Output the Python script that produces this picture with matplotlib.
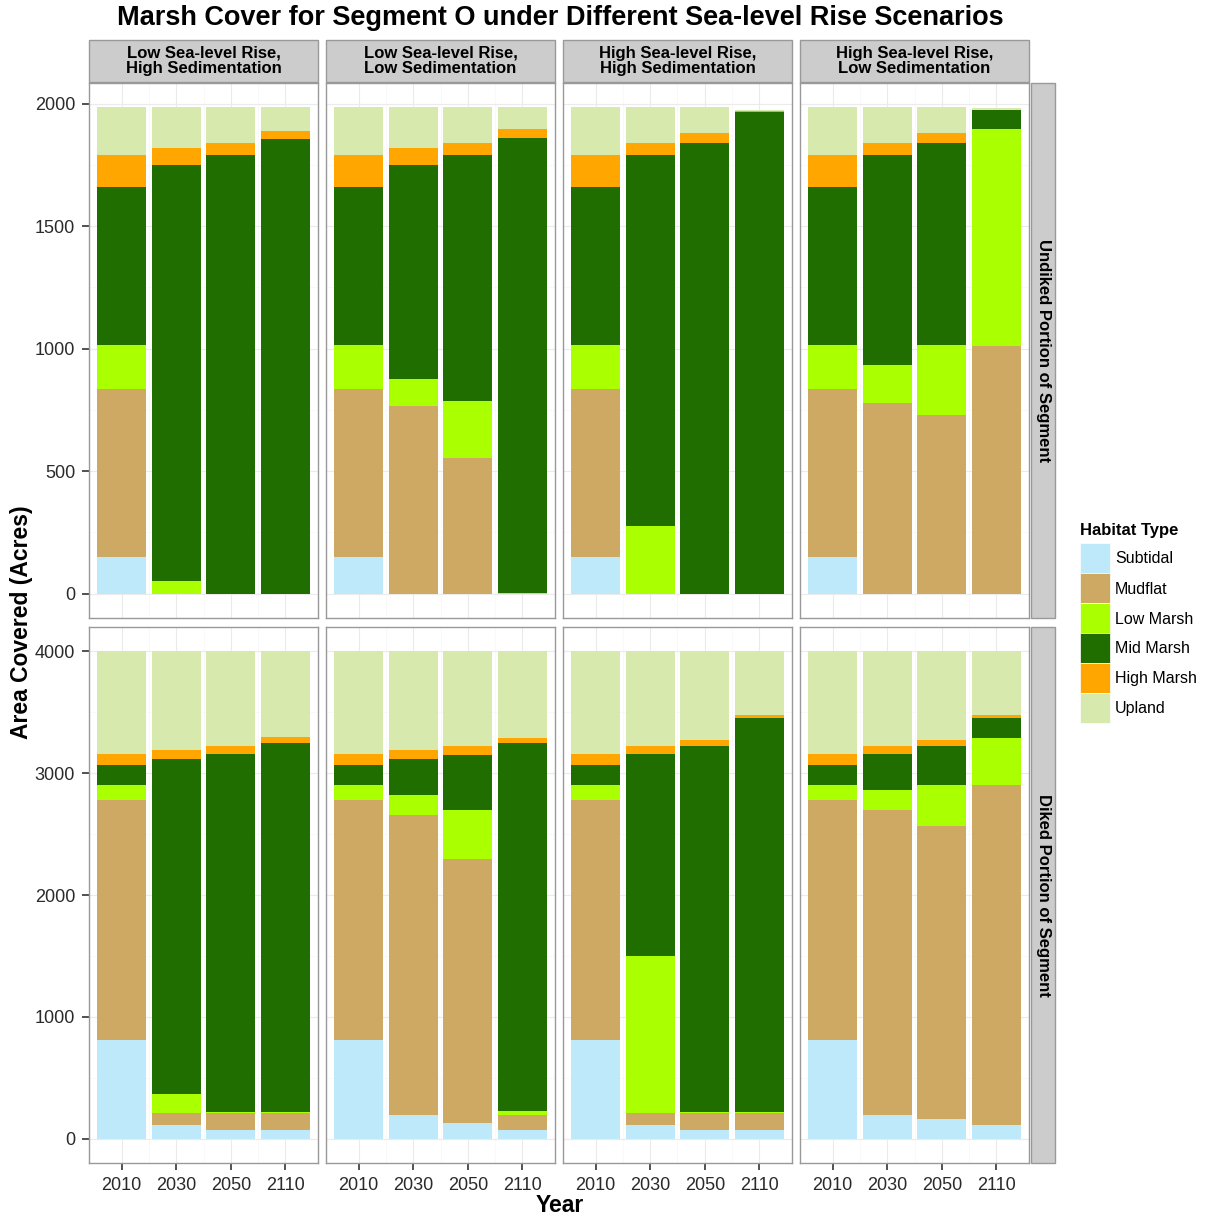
import matplotlib.pyplot as plt
from matplotlib.patches import Rectangle

plt.rcParams['font.family'] = ['Liberation Sans', 'DejaVu Sans']

years = ['2010', '2030', '2050', '2110']
scenarios = ['Low Sea-level Rise,\nHigh Sedimentation',
             'Low Sea-level Rise,\nLow Sedimentation',
             'High Sea-level Rise,\nHigh Sedimentation',
             'High Sea-level Rise,\nLow Sedimentation']
rows = ['Undiked Portion of Segment', 'Diked Portion of Segment']
habitats = ['Subtidal', 'Mudflat', 'Low Marsh', 'Mid Marsh', 'High Marsh', 'Upland']
colors = ['#bde9fa', '#cea963', '#aaff00', '#216e00', '#ffa600', '#d8e9ae']

# values per habitat: 4 scenarios x 4 years (2010, 2030, 2050, 2110)
undiked_subtidal = [150, 0, 0, 0,   150, 0, 0, 0,     150, 0, 0, 0,      150, 0, 0, 0]
undiked_mudflat = [685, 0, 0, 0,    685, 765, 555, 0, 685, 0, 0, 0,      685, 780, 730, 1010]
undiked_low = [180, 50, 0, 0,       180, 110, 230, 5, 180, 275, 0, 0,    180, 155, 285, 885]
undiked_mid = [645, 1700, 1790, 1855, 645, 875, 1005, 1855, 645, 1515, 1840, 1965, 645, 855, 825, 80]
undiked_high = [130, 70, 50, 35,    130, 70, 50, 35,  130, 50, 40, 5,    130, 50, 40, 0]
undiked_upland = [195, 165, 145, 95, 195, 165, 145, 90, 195, 145, 105, 5, 195, 145, 105, 5]

diked_subtidal = [810, 110, 75, 75,   810, 195, 130, 75,   810, 110, 75, 75,   810, 195, 165, 110]
diked_mudflat = [1970, 100, 135, 135, 1970, 2465, 2165, 120, 1970, 100, 135, 135, 1970, 2505, 2400, 2795]
diked_low = [120, 160, 5, 5,          120, 160, 400, 30,   120, 1290, 5, 5,    120, 160, 340, 385]
diked_mid = [170, 2745, 2940, 3035,   170, 295, 455, 3020, 170, 1655, 3005, 3235, 170, 295, 315, 160]
diked_high = [85, 75, 70, 45,         85, 75, 70, 45,      85, 70, 50, 30,     85, 70, 50, 30]
diked_upland = [845, 810, 775, 705,   845, 810, 780, 710,  845, 775, 730, 520, 845, 775, 730, 520]

undiked = [undiked_subtidal, undiked_mudflat, undiked_low, undiked_mid, undiked_high, undiked_upland]
diked = [diked_subtidal, diked_mudflat, diked_low, diked_mid, diked_high, diked_upland]

W, H = 1207, 1222
fig = plt.figure(figsize=(W / 100, H / 100), dpi=100)


def px(x0, y0, x1, y1):
    return [x0 / W, 1 - y1 / H, (x1 - x0) / W, (y1 - y0) / H]


col_x = [89, 326, 563, 800]
pw = 229
row_y = [(83, 618), (627, 1163)]
ylims = [(-99, 2084), (-200, 4200)]
yticks = [[0, 500, 1000, 1500, 2000], [0, 1000, 2000, 3000, 4000]]
strip_gray = '#cccccc'

for r, data in enumerate([undiked, diked]):
    for c in range(4):
        ax = fig.add_axes(px(col_x[c], row_y[r][0], col_x[c] + pw, row_y[r][1]))
        xs = range(1, 5)
        bottom = [0, 0, 0, 0]
        for h, series in enumerate(data):
            vals = series[c * 4:(c + 1) * 4]
            ax.bar(xs, vals, 0.9, bottom=bottom, color=colors[h], linewidth=0,
                   label=habitats[h], zorder=2)
            bottom = [b + v for b, v in zip(bottom, vals)]
        ax.set_xlim(0.4, 4.6)
        ax.set_ylim(*ylims[r])
        ax.set_xticks(list(xs))
        ax.set_yticks(yticks[r])
        step = yticks[r][1]
        ax.set_yticks([t + step / 2 for t in yticks[r][:-1]], minor=True)
        ax.set_xticks([1.5, 2.5, 3.5], minor=True)
        ax.grid(True, which='major', color='#ebebeb', linewidth=0.8, zorder=0)
        ax.grid(True, which='minor', color='#f7f7f7', linewidth=0.5, zorder=0)
        ax.set_axisbelow(True)
        ax.tick_params(which='minor', length=0)
        ax.tick_params(which='major', length=5, width=1.2, color='#333333', pad=5,
                       labelsize=13, labelcolor='#2a2a2a')
        for s in ax.spines.values():
            s.set_color('#999999')
            s.set_linewidth(1)
        if r == 1:
            ax.set_xticklabels(years)
        else:
            ax.tick_params(axis='x', length=0)
            ax.set_xticklabels([])
        if c != 0:
            ax.tick_params(axis='y', length=0)
            ax.set_yticklabels([])

# column strips
for c in range(4):
    fig.patches.append(Rectangle((col_x[c] / W, 1 - 82 / H), pw / W, 42 / H,
                                 transform=fig.transFigure, facecolor=strip_gray,
                                 edgecolor='#999999', linewidth=1))
    fig.text((col_x[c] + pw / 2) / W, 1 - 61 / H, scenarios[c], ha='center', va='center',
             fontsize=12, fontweight='bold', linespacing=1.0)

# row strips
for r in range(2):
    y0, y1 = row_y[r]
    fig.patches.append(Rectangle((1031 / W, 1 - y1 / H), 24 / W, (y1 - y0) / H,
                                 transform=fig.transFigure, facecolor=strip_gray,
                                 edgecolor='#999999', linewidth=1))
    fig.text(1043 / W, 1 - (y0 + y1) / 2 / H, rows[r], ha='center', va='center',
             rotation=-90, fontsize=12, fontweight='bold')

fig.text(560 / W, 1 - 18 / H, 'Marsh Cover for Segment O under Different Sea-level Rise Scenarios',
         ha='center', va='center', fontsize=19.5, fontweight='bold')
fig.text(22 / W, 1 - 622 / H, 'Area Covered (Acres)', ha='center', va='center',
         rotation=90, fontsize=16.5, fontweight='bold')
fig.text(560 / W, 1 - 1206 / H, 'Year', ha='center', va='center',
         fontsize=16.5, fontweight='bold')

# legend
fig.text(1080 / W, 1 - 531 / H, 'Habitat Type', ha='left', va='center',
         fontsize=12, fontweight='bold')
for i, (hab, col) in enumerate(zip(habitats, colors)):
    top = 543 + i * 30
    fig.patches.append(Rectangle((1080 / W, 1 - (top + 30) / H), 30 / W, 30 / H,
                                 transform=fig.transFigure, facecolor=col,
                                 edgecolor='white', linewidth=0.5))
    fig.text(1115 / W, 1 - (top + 16) / H, hab, ha='left', va='center', fontsize=11.5)

fig.savefig('out.png', dpi=100, facecolor='white')
